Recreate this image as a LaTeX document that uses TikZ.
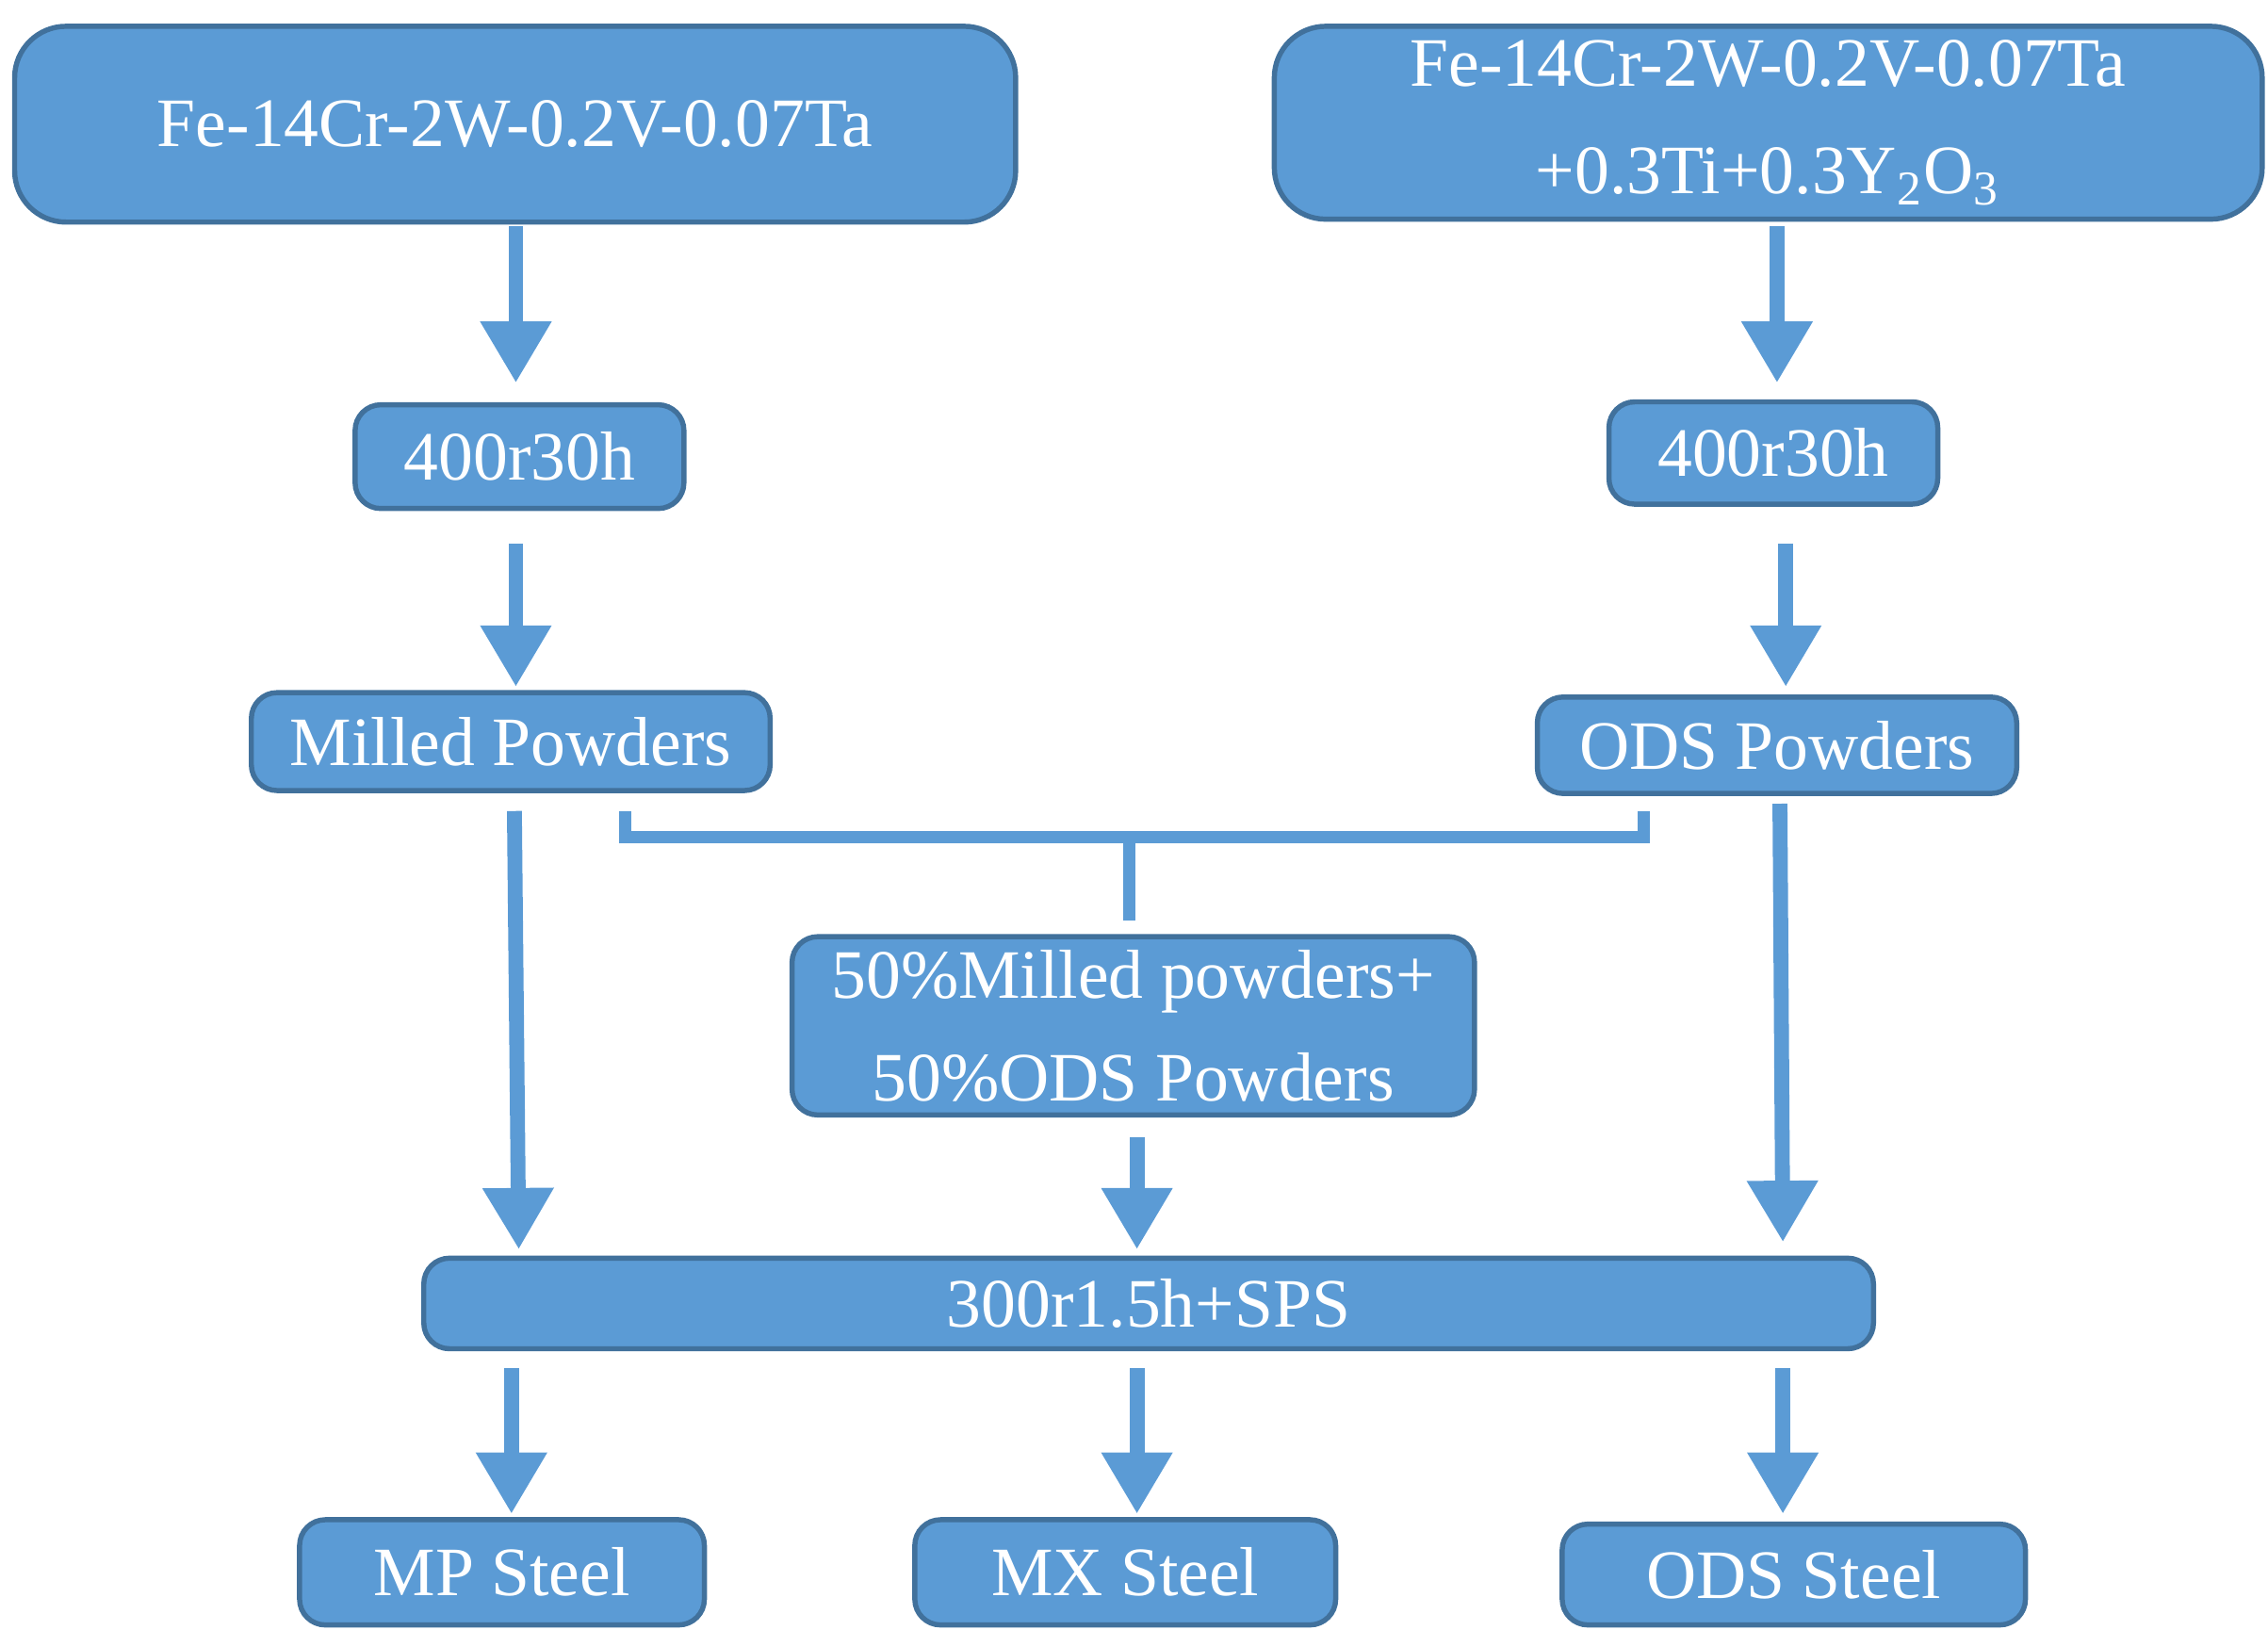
\documentclass[tikz,border=0pt]{standalone}
\usepackage{fontspec}
\setmainfont{Liberation Serif}
\usetikzlibrary{arrows.meta}
\definecolor{bfill}{HTML}{5B9BD5}
\definecolor{bdraw}{HTML}{41719C}
\begin{document}
\begin{tikzpicture}[x=0.01cm,y=-0.01cm,
  box/.style={fill=bfill,draw=bdraw,line width=1pt,rounded corners=5pt,inner sep=0pt},
  big/.style={box,rounded corners=10pt},
  lab/.style={text=white,font=\fontsize{13.5}{18}\selectfont,align=center},
  arr/.style={draw=bfill,line width=2.9pt,-{Triangle[width=0.46cm,length=0.42cm]}},
  brk/.style={draw=bfill,line width=2.4pt}]
\useasboundingbox (0,0) rectangle (1552,1115);
\newcommand{\bx}[6]{\node[#1,minimum width=#4*0.01cm-#2*0.01cm,minimum height=0.01cm*#6-0.01cm*#5] (#3) at ({(#2+#4)/2},{(#5+#6)/2}) {};}
\bx{big}{10}{tl}{695}{18}{152}
\node[lab] at (tl) {Fe-14Cr-2W-0.2V-0.07Ta};
\bx{big}{872}{tr}{1548}{18}{150}
\node[lab,font=\fontsize{13.5}{21}\selectfont] at (tr) {Fe-14Cr-2W-0.2V-0.07Ta\\+0.3Ti+0.3Y\textsubscript{2}O\textsubscript{3}};
\bx{box}{243}{ml}{468}{277}{348}
\node[lab] at (ml) {400r30h};
\bx{box}{1101}{mr}{1326}{275}{345}
\node[lab] at (mr) {400r30h};
\bx{box}{172}{pl}{527}{474}{541}
\node[lab] at (pl) {Milled Powders};
\bx{box}{1052}{pr}{1380}{477}{543}
\node[lab] at (pr) {ODS Powders};
\bx{box}{542}{mix}{1009}{641}{763}
\node[lab,font=\fontsize{13.5}{20}\selectfont] at (mix) {50\%Milled powders+\\50\%ODS Powders};
\bx{box}{290}{sps}{1282}{861}{923}
\node[lab] at (sps) {300r1.5h+SPS};
\bx{box}{205}{mp}{482}{1040}{1112}
\node[lab] at (mp) {MP Steel};
\bx{box}{626}{mx}{914}{1040}{1112}
\node[lab] at (mx) {MX Steel};
\bx{box}{1069}{os}{1386}{1043}{1112}
\node[lab] at (os) {ODS Steel};
% arrows
\coordinate (a1) at (353,155); \coordinate (b1) at (353,262);
\coordinate (a2) at (1216,155); \coordinate (b2) at (1216,262);
\coordinate (a3) at (353,372); \coordinate (b3) at (353,470);
\coordinate (a4) at (1222,372); \coordinate (b4) at (1222,470);
\coordinate (a5) at (352,555); \coordinate (b5) at (355,855);
\coordinate (a6) at (1218,550); \coordinate (b6) at (1220,850);
\coordinate (a7) at (778,778); \coordinate (b7) at (778,855);
\coordinate (a8) at (350,936); \coordinate (b8) at (350,1036);
\coordinate (a9) at (778,936); \coordinate (b9) at (778,1036);
\coordinate (a10) at (1220,936); \coordinate (b10) at (1220,1036);
\foreach \i in {1,...,10} \draw[arr] (a\i) -- (b\i);
\coordinate (k1) at (428,555); \coordinate (k2) at (1125,555);
\coordinate (k3) at (773,573); \coordinate (k4) at (773,630);
\draw[brk] (k1) -- (428,573) -- (1125,573) -- (k2);
\draw[brk] (k3) -- (k4);
\end{tikzpicture}
\end{document}
